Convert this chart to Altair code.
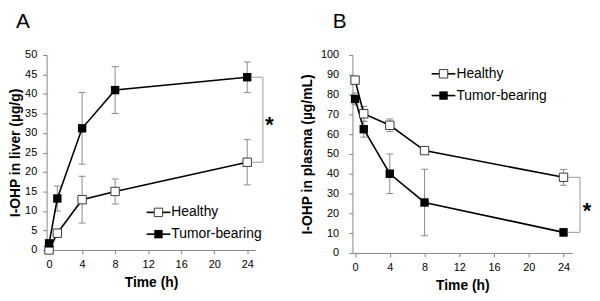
import altair as alt
import pandas as pd

# ---------------- data ----------------
times = [0, 1, 4, 8, 24]
groups = ["Healthy", "Tumor-bearing"]

liver_healthy = [0.0, 4.3, 12.9, 15.0, 22.5]
liver_healthy_err = [0.0, 1.0, 6.0, 3.2, 5.8]
liver_tumor = [1.7, 13.2, 31.2, 41.0, 44.3]
liver_tumor_err = [0.0, 3.2, 9.2, 6.0, 3.9]

plasma_healthy = [87.3, 70.3, 64.5, 51.7, 38.2]
plasma_healthy_err = [2.0, 3.8, 3.2, 1.5, 4.0]
plasma_tumor = [77.8, 62.5, 40.0, 25.5, 10.4]
plasma_tumor_err = [3.0, 4.0, 10.0, 16.8, 2.0]

x_ticks = [0, 4, 8, 12, 16, 20, 24]
liver_ticks = [0, 5, 10, 15, 20, 25, 30, 35, 40, 45, 50]
plasma_ticks = [0, 10, 20, 30, 40, 50, 60, 70, 80, 90, 100]

FONT = "Liberation Sans"
AXIS_GRAY = "#868686"
ERR_GRAY = "#8a8a8a"
BRACKET_GRAY = "#9a9a9a"


def panel(label, label_x, ytitle, yticks, h, he, tm, te, width, height,
          xmin, leg_x, leg_y, star_y, lab_pad, title_pad):
    rows = []
    for g, vals, errs in [(groups[0], h, he), (groups[1], tm, te)]:
        for t, v, e in zip(times, vals, errs):
            rows.append(dict(t=t, v=v, lo=v - e, hi=v + e, g=g))
    df = pd.DataFrame(rows)

    xscale = alt.Scale(domain=[xmin, 25], nice=False, zero=False)
    yscale = alt.Scale(domain=[yticks[0], yticks[-1]], nice=False)
    xaxis = alt.Axis(values=x_ticks, title="Time (h)", grid=False,
                     domainColor=AXIS_GRAY, tickColor=AXIS_GRAY, tickSize=4,
                     labelFontSize=11, labelPadding=5, labelColor="black",
                     titleFontSize=14, titleFontWeight="bold", titlePadding=6,
                     titleColor="black")
    yaxis = alt.Axis(values=yticks, title=ytitle, grid=False,
                     domainColor=AXIS_GRAY, tickColor=AXIS_GRAY, tickSize=4,
                     labelFontSize=11, labelPadding=lab_pad, labelColor="black",
                     titleFontSize=14, titleFontWeight="bold",
                     titlePadding=title_pad, titleColor="black")

    def X(f):
        return alt.X(f, type="quantitative", scale=xscale, axis=xaxis)

    def Y(f):
        return alt.Y(f, type="quantitative", scale=yscale, axis=yaxis)

    base = alt.Chart(df)
    err = base.transform_filter("datum.hi > datum.lo").mark_rule(
        color=ERR_GRAY, strokeWidth=1).encode(x=X("t"), y=Y("lo"), y2="hi")
    cap_lo = base.transform_filter("datum.hi > datum.lo").mark_tick(
        orient="horizontal", size=7, thickness=1, color=ERR_GRAY, opacity=1
    ).encode(x=X("t"), y=Y("lo"))
    cap_hi = base.transform_filter("datum.hi > datum.lo").mark_tick(
        orient="horizontal", size=7, thickness=1, color=ERR_GRAY, opacity=1
    ).encode(x=X("t"), y=Y("hi"))
    lines = base.mark_line(color="black", strokeWidth=1.6).encode(
        x=X("t"), y=Y("v"), detail="g:N")
    pts_h = base.transform_filter(f"datum.g == '{groups[0]}'").mark_square(
        size=72, filled=True, fill="white", stroke="#3a3a3a", strokeWidth=1,
        opacity=1).encode(x=X("t"), y=Y("v"))
    pts_t = base.transform_filter(f"datum.g == '{groups[1]}'").mark_square(
        size=72, filled=True, color="black", opacity=1).encode(
        x=X("t"), y=Y("v"))

    # significance bracket at t = 24
    yh, yt = h[-1], tm[-1]
    bdf = pd.DataFrame([
        dict(x=24.5, x2=25.9, y=yt, y2=yt),
        dict(x=24.5, x2=25.9, y=yh, y2=yh),
        dict(x=25.9, x2=25.9, y=yh, y2=yt),
    ])
    bracket = alt.Chart(bdf).mark_rule(color=BRACKET_GRAY, strokeWidth=1).encode(
        x=X("x"), x2="x2", y=Y("y"), y2="y2")
    sdf = pd.DataFrame([dict(x=26.7, y=star_y, s="*")])
    star = alt.Chart(sdf).mark_text(font=FONT, fontSize=22, fontWeight="bold",
                                    align="center", baseline="alphabetic",
                                    dy=12).encode(
        x=X("x"), y=Y("y"), text="s:N")

    one = alt.Chart(pd.DataFrame({"k": [0]}))
    legend_layers = []
    for i, g in enumerate(groups):
        yy = leg_y + i * 22
        legend_layers.append(one.mark_rule(color="black", strokeWidth=1.6).encode(
            x=alt.value(leg_x), x2=alt.value(leg_x + 24), y=alt.value(yy)))
        if i == 0:
            sq = one.mark_square(size=72, filled=True, fill="white",
                                 stroke="#3a3a3a", strokeWidth=1, opacity=1)
        else:
            sq = one.mark_square(size=72, filled=True, color="black", opacity=1)
        legend_layers.append(sq.encode(x=alt.value(leg_x + 12), y=alt.value(yy)))
        legend_layers.append(one.mark_text(font=FONT, fontSize=14, align="left",
                                           baseline="middle", color="black").encode(
            x=alt.value(leg_x + 25), y=alt.value(yy), text=alt.value(g)))

    lab = one.mark_text(font=FONT, fontSize=21, align="left", baseline="top",
                        color="black").encode(
        x=alt.value(label_x), y=alt.value(-44), text=alt.value(label))

    return alt.layer(err, cap_lo, cap_hi, lines, pts_h, pts_t, bracket, star,
                     *legend_layers, lab).properties(width=width, height=height)


pA = panel("A", -31, "I-OHP in liver (µg/g)", liver_ticks,
           liver_healthy, liver_healthy_err, liver_tumor, liver_tumor_err,
           width=211, height=197, xmin=-0.3, leg_x=101, leg_y=159,
           star_y=33.3, lab_pad=6, title_pad=2)
pB = panel("B", -20, "I-OHP in plasma (µg/mL)", plasma_ticks,
           plasma_healthy, plasma_healthy_err, plasma_tumor, plasma_tumor_err,
           width=222, height=200, xmin=-0.3, leg_x=80, leg_y=19,
           star_y=23.5, lab_pad=10, title_pad=6)

chart = alt.hconcat(pA, pB, spacing=26).properties(
    padding={"left": 0, "top": 2, "right": 0, "bottom": 0}
).configure_view(stroke=None).configure_axis(
    labelFont=FONT, titleFont=FONT
).configure_text(font=FONT)

chart.save("out.html", embed_options={"renderer": "svg", "actions": False})
